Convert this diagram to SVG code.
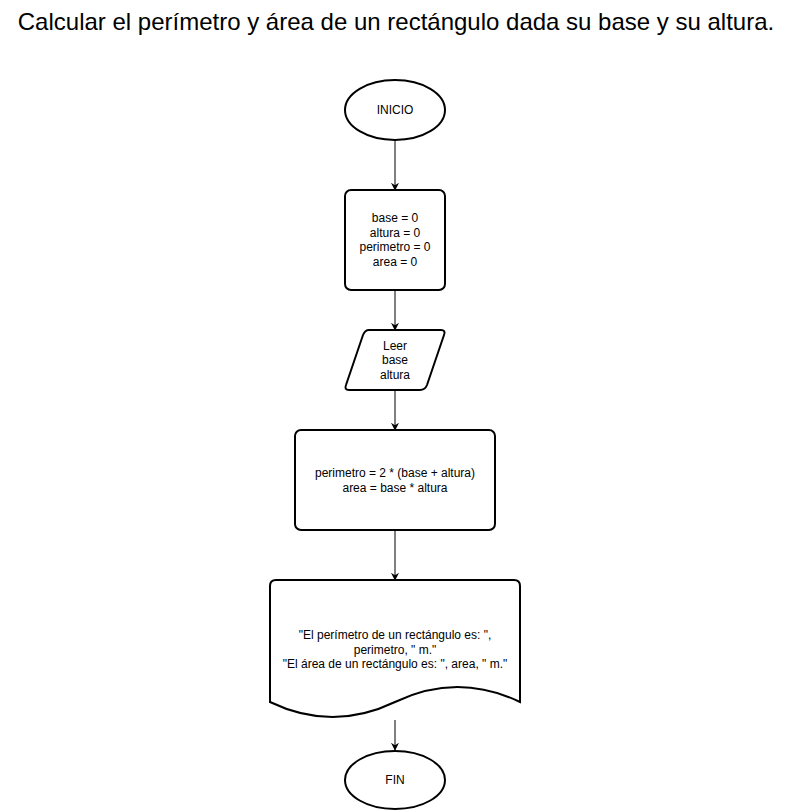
<svg xmlns="http://www.w3.org/2000/svg" width="792" height="812" viewBox="0 0 792 812">
<style>
.shape{fill:#fff;stroke:#000;stroke-width:2}
.lbl{font-family:"Liberation Sans",Arial,sans-serif;font-size:12px;fill:#000;text-anchor:middle}
.title{font-family:"Liberation Sans",Arial,sans-serif;font-size:24px;fill:#000;text-anchor:middle}
.edge{stroke:#000;stroke-width:1;fill:none;marker-end:url(#arr)}
</style>
<defs>
<marker id="arr" viewBox="0 0 10 10" refX="9" refY="5" markerWidth="8" markerHeight="8" markerUnits="userSpaceOnUse" orient="auto">
<path d="M0,0 L10,5 L0,10 L3,5 Z" fill="#000"/>
</marker>
</defs>
<rect width="792" height="812" fill="#fff"/>
<text class="title" x="396" y="30">Calcular el perímetro y área de un rectángulo dada su base y su altura.</text>
<g id="connectors">
<line class="edge" x1="395" y1="140" x2="395" y2="190"/>
<line class="edge" x1="395" y1="290" x2="395" y2="330"/>
<line class="edge" x1="395" y1="390" x2="395" y2="430"/>
<line class="edge" x1="395" y1="530" x2="395" y2="580"/>
<line class="edge" x1="395" y1="720" x2="395" y2="750"/>
</g>
<g id="inicio">
<ellipse class="shape" cx="395" cy="110" rx="50" ry="30"/>
<text class="lbl" x="395" y="114">INICIO</text>
</g>
<g id="init">
<rect class="shape" x="345" y="190" width="100" height="100" rx="6"/>
<text class="lbl" x="395" y="222">base = 0</text>
<text class="lbl" x="395" y="237">altura = 0</text>
<text class="lbl" x="395" y="251">perimetro = 0</text>
<text class="lbl" x="395" y="266">area = 0</text>
</g>
<g id="leer">
<path class="shape" d="M369,330 L441,330 Q446,330 444,335 L427,385 Q425,390 420,390 L349,390 Q344,390 346,385 L363,335 Q365,330 369,330 Z"/>
<text class="lbl" x="395" y="350">Leer</text>
<text class="lbl" x="395" y="364">base</text>
<text class="lbl" x="395" y="379">altura</text>
</g>
<g id="calc">
<rect class="shape" x="295" y="430" width="200" height="100" rx="6"/>
<text class="lbl" x="395" y="477">perimetro = 2 * (base + altura)</text>
<text class="lbl" x="395" y="492">area = base * altura</text>
</g>
<g id="salida">
<path class="shape" d="M276,580 L514,580 Q520,580 520,586 L520,702 Q457.5,672 395,702 Q332.5,732 270,702 L270,586 Q270,580 276,580 Z"/>
<text class="lbl" x="395" y="639">"El perímetro de un rectángulo es: ",</text>
<text class="lbl" x="395" y="654">perimetro, " m."</text>
<text class="lbl" x="395" y="668">"El área de un rectángulo es: ", area, " m."</text>
</g>
<g id="fin">
<ellipse class="shape" cx="395" cy="780" rx="50" ry="29"/>
<text class="lbl" x="395" y="784">FIN</text>
</g>
</svg>
